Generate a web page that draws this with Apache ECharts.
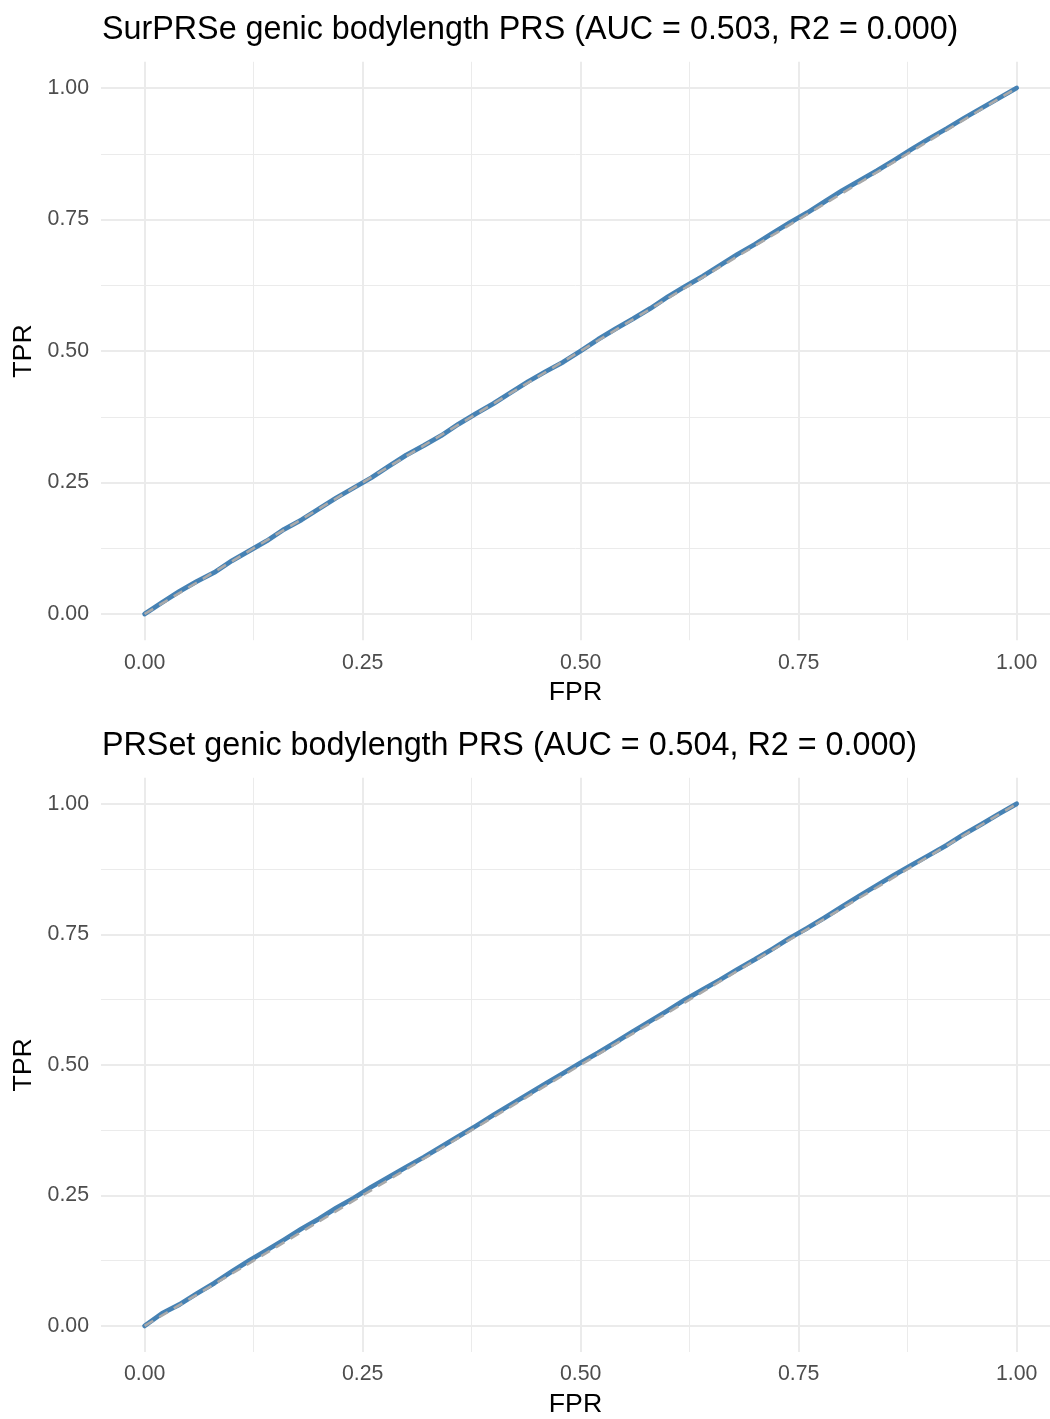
<!DOCTYPE html>
<html>
<head>
<meta charset="utf-8">
<script src="https://cdn.jsdelivr.net/npm/echarts@6/dist/echarts.min.js"></script>
<style>
  html, body { margin: 0; padding: 0; background: #ffffff; }
  #chart { width: 1050px; height: 1419px; }
</style>
</head>
<body>
<div id="chart"></div>
<script>
// ROC curve of the SurPRSe genic bodylength PRS
const fpr1 = [0, 0.02, 0.04, 0.06, 0.08, 0.10, 0.12, 0.14, 0.16, 0.18, 0.20, 0.22, 0.24, 0.26, 0.28, 0.30, 0.32, 0.34, 0.36, 0.38, 0.40, 0.42, 0.44, 0.46, 0.48, 0.50, 0.52, 0.54, 0.56, 0.58, 0.60, 0.62, 0.64, 0.66, 0.68, 0.70, 0.72, 0.74, 0.76, 0.78, 0.80, 0.82, 0.84, 0.86, 0.88, 0.90, 0.92, 0.94, 0.96, 0.98, 1.00];
const tpr1 = [0, 0.022, 0.043, 0.062, 0.079, 0.101, 0.120, 0.139, 0.161, 0.179, 0.200, 0.221, 0.240, 0.259, 0.281, 0.302, 0.320, 0.339, 0.361, 0.381, 0.400, 0.421, 0.442, 0.461, 0.479, 0.500, 0.522, 0.542, 0.561, 0.581, 0.603, 0.623, 0.642, 0.663, 0.684, 0.703, 0.724, 0.744, 0.763, 0.784, 0.805, 0.824, 0.843, 0.863, 0.884, 0.904, 0.923, 0.943, 0.962, 0.981, 1.000];

// ROC curve of the PRSet genic bodylength PRS
const fpr2 = [0, 0.02, 0.04, 0.06, 0.08, 0.10, 0.12, 0.14, 0.16, 0.18, 0.20, 0.22, 0.24, 0.26, 0.28, 0.30, 0.32, 0.34, 0.36, 0.38, 0.40, 0.42, 0.44, 0.46, 0.48, 0.50, 0.52, 0.54, 0.56, 0.58, 0.60, 0.62, 0.64, 0.66, 0.68, 0.70, 0.72, 0.74, 0.76, 0.78, 0.80, 0.82, 0.84, 0.86, 0.88, 0.90, 0.92, 0.94, 0.96, 0.98, 1.00];
const tpr2 = [0, 0.024, 0.041, 0.062, 0.082, 0.104, 0.125, 0.145, 0.165, 0.186, 0.205, 0.226, 0.245, 0.266, 0.285, 0.304, 0.323, 0.343, 0.363, 0.383, 0.404, 0.424, 0.444, 0.464, 0.484, 0.504, 0.523, 0.543, 0.564, 0.584, 0.604, 0.625, 0.644, 0.663, 0.683, 0.702, 0.722, 0.743, 0.762, 0.782, 0.803, 0.824, 0.844, 0.864, 0.883, 0.902, 0.921, 0.942, 0.961, 0.981, 1.000];

// chance diagonal
const diagX = [0, 1];
const diagY = [0, 1];

// axis ticks and grid positions
const majorTicks = [0, 0.25, 0.5, 0.75, 1];
const minorTicks = [0.125, 0.375, 0.625, 0.875];

const panelTitles = [
  'SurPRSe genic bodylength PRS (AUC = 0.503, R2 = 0.000)',
  'PRSet genic bodylength PRS (AUC = 0.504, R2 = 0.000)'
];

const FONT = '"Liberation Sans", Arial, Helvetica, sans-serif';
// 5% padding around [0, 1]; the x range is cut at the right edge of the page
const LO = -0.05, HI = 1.05;
const X_HI = 1.0383;

const zip = (xs, ys) => xs.map((x, i) => [x, ys[i]]);

function gridLines(ticks) {
  const out = [];
  ticks.forEach(t => {
    out.push({ coords: [[t, LO], [t, HI]] });
    out.push({ coords: [[LO, t], [X_HI, t]] });
  });
  return out;
}

const grids = [
  { left: 101, top: 61.7, right: 0, height: 578.6 },
  { left: 101, top: 777.7, right: 0, height: 578.6 }
];

const xAxes = [0, 1].map(i => ({
  type: 'value', gridIndex: i, min: LO, max: X_HI,
  name: 'FPR', nameLocation: 'middle', nameGap: 39,
  nameTextStyle: { fontFamily: FONT, fontSize: 26.7, color: '#000000' },
  axisLine: { show: false }, axisTick: { show: false },
  splitLine: { show: false },
  axisLabel: {
    customValues: majorTicks, margin: 12,
    fontFamily: FONT, fontSize: 21.3, color: '#4D4D4D',
    formatter: v => v.toFixed(2)
  }
}));

const yAxes = [0, 1].map(i => ({
  type: 'value', gridIndex: i, min: LO, max: HI,
  name: 'TPR', nameLocation: 'middle', nameGap: 64, nameRotate: 90,
  nameTextStyle: { fontFamily: FONT, fontSize: 26.7, color: '#000000' },
  axisLine: { show: false }, axisTick: { show: false },
  splitLine: { show: false },
  axisLabel: {
    customValues: majorTicks, margin: 12,
    fontFamily: FONT, fontSize: 21.3, color: '#4D4D4D',
    formatter: v => v.toFixed(2)
  }
}));

const series = [];
const curves = [[fpr1, tpr1], [fpr2, tpr2]];
[0, 1].forEach(i => {
  series.push({
    type: 'lines', coordinateSystem: 'cartesian2d',
    xAxisIndex: i, yAxisIndex: i, silent: true, z: 1,
    lineStyle: { color: '#EBEBEB', width: 1, opacity: 1 },
    data: gridLines(minorTicks)
  });
  series.push({
    type: 'lines', coordinateSystem: 'cartesian2d',
    xAxisIndex: i, yAxisIndex: i, silent: true, z: 1,
    lineStyle: { color: '#EBEBEB', width: 2, opacity: 1 },
    data: gridLines(majorTicks)
  });
  series.push({
    type: 'line', xAxisIndex: i, yAxisIndex: i, z: 3,
    data: zip(curves[i][0], curves[i][1]),
    showSymbol: false, smooth: false, animation: false,
    lineStyle: { color: '#4682B4', width: 4.8, cap: 'round', join: 'round' }
  });
  series.push({
    type: 'line', xAxisIndex: i, yAxisIndex: i, z: 4,
    data: zip(diagX, diagY),
    showSymbol: false, animation: false,
    lineStyle: { color: '#A9A9A9', width: 2.6, type: [10, 7] }
  });
});

const chart = echarts.init(document.getElementById('chart'), null, { renderer: 'canvas' });
chart.setOption({
  animation: false,
  backgroundColor: '#ffffff',
  grid: grids,
  xAxis: xAxes,
  yAxis: yAxes,
  series: series,
  graphic: panelTitles.map((t, i) => ({
    type: 'text', left: 102, top: i === 0 ? 14 : 730,
    style: { text: t, fontFamily: FONT, fontSize: 32.3, fill: '#000000' }
  }))
});
</script>
</body>
</html>
